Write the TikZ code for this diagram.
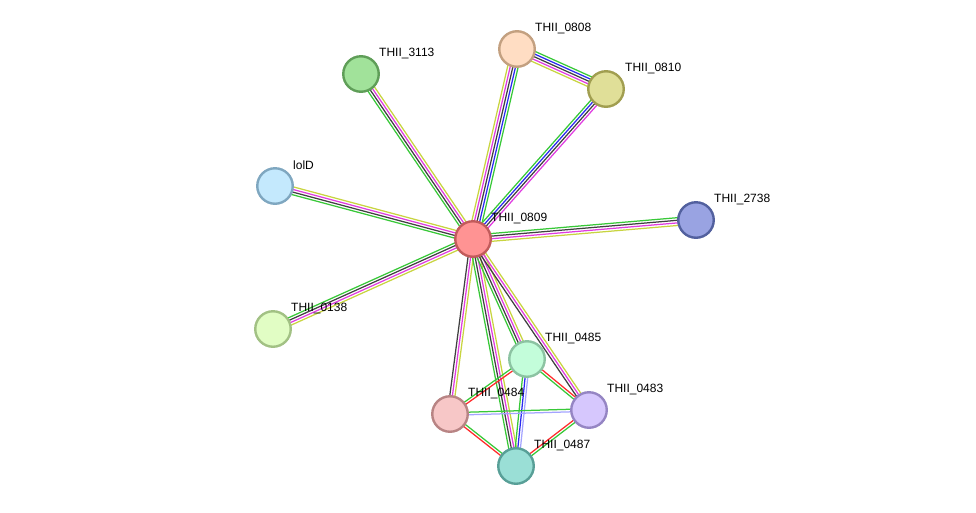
\documentclass[tikz,border=0pt]{standalone}
\usepackage{fontspec}
\setmainfont{Liberation Sans}
\usetikzlibrary{backgrounds}
\usetikzlibrary{calc}
\usepackage{xcolor}

\definecolor{evgreen}{HTML}{38C838}
\definecolor{evblue}{HTML}{2A2AF0}
\definecolor{evblack}{HTML}{404040}
\definecolor{evmagenta}{HTML}{E03CE0}
\definecolor{evyellow}{HTML}{C8D440}
\definecolor{evred}{HTML}{FF2A2A}
\definecolor{evlav}{HTML}{A4A4FF}

% parallel lines between two proteins, one per evidence colour
\newcommand{\strand}[3]{%
  \foreach \col [count=\k] in {#3} {\xdef\nstrand{\k}}%
  \foreach \col [count=\k] in {#3} {%
    \pgfmathsetmacro\off{(\k-(\nstrand+1)/2)*2.6}
    \draw[color=\col,line width=1.25pt] ($(#1)!\off pt!90:(#2)$) -- ($(#2)!\off pt!-90:(#1)$);
  }%
}

\begin{document}
\begin{tikzpicture}[x=1pt,y=-1pt,
  prot/.style={circle,draw,line width=2.4pt,minimum size=35.5pt,inner sep=0pt},
  lbl/.style={anchor=west,inner sep=0pt,font=\fontsize{12}{14}\selectfont}]
\useasboundingbox (0,0) rectangle (976,512);

\node[prot,fill={rgb,255:red,255;green,147;blue,147},draw={rgb,255:red,194;green,91;blue,91}] (p0809) at (473,239) {};
\node[prot,fill={rgb,255:red,255;green,221;blue,195},draw={rgb,255:red,195;green,160;blue,128}] (p0808) at (517,49) {};
\node[prot,fill={rgb,255:red,224;green,223;blue,152},draw={rgb,255:red,161;green,158;blue,80}] (p0810) at (606,89) {};
\node[prot,fill={rgb,255:red,161;green,226;blue,154},draw={rgb,255:red,95;green,158;blue,88}] (p3113) at (361,74) {};
\node[prot,fill={rgb,255:red,196;green,233;blue,253},draw={rgb,255:red,127;green,167;blue,192}] (plolD) at (275,186) {};
\node[prot,fill={rgb,255:red,153;green,163;blue,226},draw={rgb,255:red,82;green,96;blue,158}] (p2738) at (696,220) {};
\node[prot,fill={rgb,255:red,225;green,253;blue,196},draw={rgb,255:red,162;green,193;blue,132}] (p0138) at (273,329) {};
\node[prot,fill={rgb,255:red,195;green,253;blue,218},draw={rgb,255:red,140;green,195;blue,162}] (p0485) at (527,359) {};
\node[prot,fill={rgb,255:red,214;green,199;blue,253},draw={rgb,255:red,149;green,133;blue,195}] (p0483) at (589,410) {};
\node[prot,fill={rgb,255:red,247;green,199;blue,199},draw={rgb,255:red,184;green,132;blue,132}] (p0484) at (450,414) {};
\node[prot,fill={rgb,255:red,154;green,223;blue,214},draw={rgb,255:red,88;green,159;blue,151}] (p0487) at (516,466) {};

\node[lbl] (l0809) at (491,218) {THII\_0809};
\node[lbl] (l0808) at (535,28) {THII\_0808};
\node[lbl] (l0810) at (625,68) {THII\_0810};
\node[lbl] (l3113) at (379,53) {THII\_3113};
\node[lbl] (llolD) at (293,165) {lolD};
\node[lbl] (l2738) at (714,199) {THII\_2738};
\node[lbl] (l0138) at (291,308) {THII\_0138};
\node[lbl] (l0485) at (545,338) {THII\_0485};
\node[lbl] (l0483) at (607,389) {THII\_0483};
\node[lbl] (l0484) at (468,393) {THII\_0484};
\node[lbl] (l0487) at (534,445) {THII\_0487};

\begin{pgfonlayer}{background}
\strand{p0809}{p3113}{evyellow,evmagenta,evblack,evgreen}
\strand{p0809}{plolD}{evyellow,evmagenta,evblack,evgreen}
\strand{p0809}{p2738}{evyellow,evmagenta,evblack,evgreen}
\strand{p0809}{p0138}{evgreen,evblack,evmagenta,evyellow}
\strand{p0809}{p0808}{evgreen,evblue,evblack,evmagenta,evyellow}
\strand{p0809}{p0810}{evmagenta,evblack,evblue,evgreen}
\strand{p0808}{p0810}{evyellow,evmagenta,evblack,evblue,evgreen}
\strand{p0809}{p0484}{evblack,evmagenta,evyellow}
\strand{p0809}{p0487}{evgreen,evblack,evmagenta,evyellow}
\strand{p0809}{p0485}{evgreen,evblack,evmagenta,evyellow}
\strand{p0809}{p0483}{evblack,evmagenta,evyellow}
\strand{p0485}{p0484}{evgreen,evred}
\strand{p0485}{p0483}{evgreen,evred}
\strand{p0485}{p0487}{evgreen,evblue,evlav}
\strand{p0484}{p0483}{evlav,evgreen}
\strand{p0484}{p0487}{evred,evgreen}
\strand{p0483}{p0487}{evred,evgreen}
\end{pgfonlayer}
\end{tikzpicture}
\end{document}
